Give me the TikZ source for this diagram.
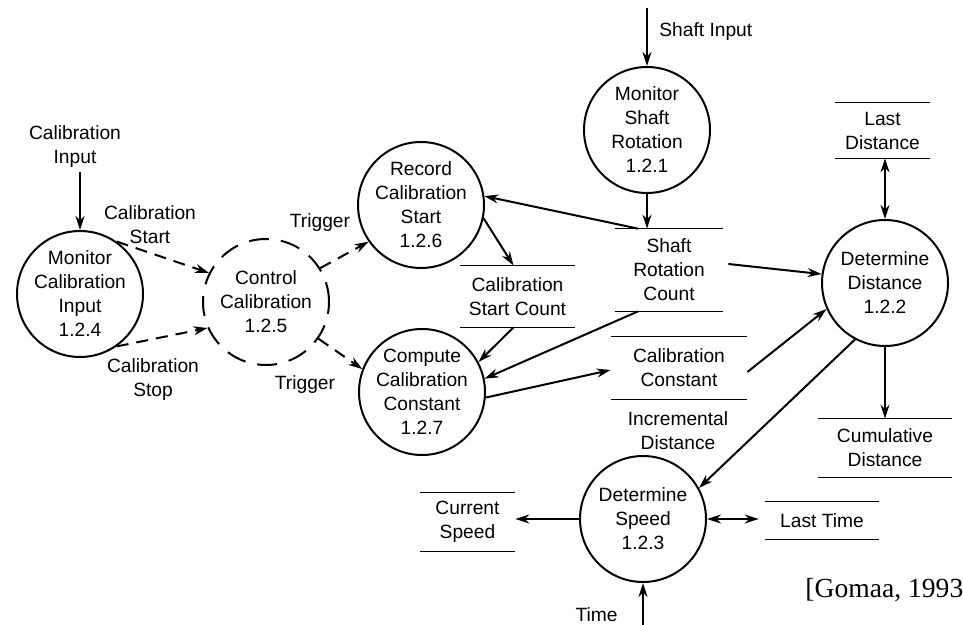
\documentclass[tikz,border=0pt]{standalone}
\usepackage{fontspec}
\setmainfont{Liberation Sans}
\newfontfamily\citefont{Liberation Serif}
\usetikzlibrary{arrows.meta, positioning}
\tikzset{
		process/.style={
			circle,
			draw=black,
			line width=1pt,
			align=center,
			minimum size=63pt,
			inner sep=0pt
		},
		control/.style={
			process,
			dash pattern=on 10pt off 6pt
		},
		store/.style={
			rectangle,
			align=center,
			inner sep=0pt
		},
		flowtext/.style={
			align=center,
			inner sep=1pt
		},
		flow/.style={line width=1pt, -{Stealth[length=7pt,width=4.5pt]}},
		bothflow/.style={line width=1pt, {Stealth[length=7pt,width=4.5pt]}-{Stealth[length=7pt,width=4.5pt]}},
		event/.style={flow, dash pattern=on 6pt off 4pt}
	}
\begin{document}
\begin{tikzpicture}[x=0.5pt, y=-0.5pt, font=\fontsize{9.6}{12}\selectfont]
			\useasboundingbox (0,0) rectangle (963,625);
			% processes
			\node (mci) [process] at (80,294) {Monitor\\Calibration\\Input\\1.2.4};
			\node (ctl) [control] at (266,302) {Control\\Calibration\\1.2.5};
			\node (rcs) [process] at (421,205) {Record\\Calibration\\Start\\1.2.6};
			\node (ccc) [process] at (422,392) {Compute\\Calibration\\Constant\\1.2.7};
			\node (msr) [process] at (647,130) {Monitor\\Shaft\\Rotation\\1.2.1};
			\node (dd) [process] at (885,283) {Determine\\Distance\\1.2.2};
			\node (dsp) [process] at (643,519) {Determine\\Speed\\1.2.3};
			% data stores
			\node (lastdist) [store, minimum width=47.5pt, minimum height=27.5pt] at (882.5,130.5) {Last\\Distance};
			\node (calstart) [store, minimum width=57.5pt, minimum height=30.5pt] at (517.5,296.5) {Calibration\\Start Count};
			\node (shaftcnt) [store, minimum width=54pt, minimum height=41pt] at (669,270) {Shaft\\Rotation\\Count};
			\node (calconst) [store, minimum width=68pt, minimum height=31pt] at (679,368) {Calibration\\Constant};
			\node (cumdist) [store, minimum width=67pt, minimum height=29pt] at (885,448) {Cumulative\\Distance};
			\node (curspeed) [store, minimum width=47.5pt, minimum height=29pt] at (467.5,522) {Current\\Speed};
			\node (lasttime) [store, minimum width=57pt, minimum height=18.5pt] at (822,520.5) {Last Time};
			\foreach \s in {lastdist, calstart, shaftcnt, calconst, cumdist, curspeed, lasttime}
				\draw [line width=0.8pt] (\s.north west) -- (\s.north east) (\s.south west) -- (\s.south east);
			% external inputs
			\coordinate (cin) at (78,172);
			\coordinate (sin) at (647,8);
			\coordinate (tin) at (643,625);
			\node (lblcin) [flowtext, above=1pt of cin, xshift=-1.5pt] {Calibration\\Input};
			\node (lblsin) [flowtext, anchor=west] at (657,32) {Shaft Input};
			\node (lbltin) [flowtext, anchor=east] at (620,615) {Time};
			\draw [flow] (mci.north |- cin) -- (mci.north);
			\draw [flow] (sin) -- (msr.north);
			\draw [flow] (tin) -- (dsp.south);
			% event flows
			\draw [event] (mci.55) -- (ctl.153);
			\draw [event] (mci.-55) -- (ctl.204);
			\draw [event] (ctl.32) -- (rcs.215);
			\draw [event] (ctl.-35) -- (ccc.159);
			\node (lblstart) [flowtext] at (150,225) {Calibration\\Start};
			\node (lblstop) [flowtext] at (153,380) {Calibration\\Stop};
			\node (lbltrig1) [flowtext] at (320,223) {Trigger};
			\node (lbltrig2) [flowtext] at (305,385) {Trigger};
			% data flows
			\draw [flow] (msr.south) -- (msr.south |- shaftcnt.north);
			\draw [flow] ([xshift=-15.5pt]shaftcnt.north) -- (rcs.8);
			\draw [flow] (rcs.-12) -- ([xshift=-2pt]calstart.north);
			\draw [flow] ([xshift=-2pt]calstart.south) -- (ccc.28);
			\draw [flow] ([xshift=-15.5pt]shaftcnt.south) -- (ccc.12);
			\draw [flow] (ccc.-5) -- ([yshift=-1pt]calconst.west);
			\draw [flow] ([xshift=2.5pt,yshift=3pt]shaftcnt.east) -- (dd.172);
			\draw [flow] ([yshift=-2pt]calconst.east) -- (dd.204);
			\draw [bothflow] (dd.north |- lastdist.south) -- (dd.north);
			\draw [flow] (dd.south) -- (dd.south |- cumdist.north);
			\draw [flow] (dd.242) -- (dsp.29);
			\node (lblinc) [flowtext] at (678,431) {Incremental\\Distance};
			\draw [flow] (dsp.west) -- (dsp.west -| curspeed.east);
			\draw [bothflow] (dsp.east) -- ([xshift=-3pt]dsp.east -| lasttime.west);
			\node (cite) [anchor=west, inner sep=0pt, font=\citefont\fontsize{13.8}{16}\selectfont] at (805,590) {[Gomaa, 1993};
\end{tikzpicture}
\end{document}
